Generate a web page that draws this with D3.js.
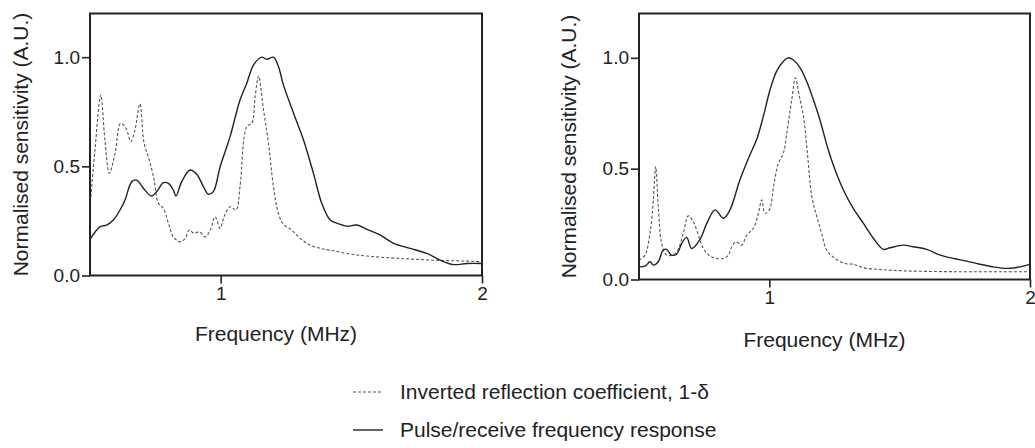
<!DOCTYPE html>
<html>
<head>
<meta charset="utf-8">
<script src="https://cdn.jsdelivr.net/npm/d3@7"></script>
<style>
  body { margin: 0; background: #fff; }
  svg text { font-family: "Liberation Sans", Arial, sans-serif; fill: #222; }
</style>
</head>
<body>
<div id="chart"></div>
<script>

// 1. Data (frequency in MHz, normalised sensitivity)

const leftPulseFreq = [0.5, 0.538, 0.564, 0.589, 0.615, 0.634, 0.66, 0.679, 0.704, 0.736, 0.755, 0.781, 0.8, 0.819, 0.829, 0.851, 0.883, 0.909, 0.934, 0.953, 0.972, 0.998, 1.036, 1.074, 1.1, 1.126, 1.157, 1.177, 1.202, 1.221, 1.24, 1.279, 1.317, 1.355, 1.387, 1.419, 1.445, 1.483, 1.521, 1.56, 1.611, 1.662, 1.726, 1.789, 1.84, 1.891, 1.942, 2.0];
const leftPulseValue = [0.165, 0.223, 0.231, 0.254, 0.30, 0.346, 0.43, 0.437, 0.40, 0.364, 0.384, 0.425, 0.422, 0.391, 0.364, 0.43, 0.483, 0.463, 0.407, 0.372, 0.384, 0.498, 0.636, 0.804, 0.881, 0.965, 1.0, 0.99, 1.0, 0.957, 0.873, 0.743, 0.621, 0.468, 0.33, 0.254, 0.239, 0.226, 0.231, 0.211, 0.185, 0.147, 0.124, 0.101, 0.07, 0.05, 0.055, 0.055];

const leftReflFreq = [0.5, 0.519, 0.541, 0.557, 0.574, 0.596, 0.617, 0.638, 0.656, 0.672, 0.691, 0.707, 0.723, 0.743, 0.762, 0.781, 0.8, 0.819, 0.845, 0.864, 0.88, 0.898, 0.919, 0.941, 0.96, 0.979, 0.998, 1.013, 1.036, 1.059, 1.074, 1.1, 1.119, 1.132, 1.145, 1.164, 1.183, 1.202, 1.221, 1.24, 1.272, 1.304, 1.343, 1.381, 1.432, 1.496, 1.56, 1.687, 1.815, 1.942, 2.0];
const leftReflValue = [0.315, 0.575, 0.827, 0.621, 0.468, 0.56, 0.697, 0.674, 0.613, 0.667, 0.786, 0.606, 0.544, 0.453, 0.33, 0.307, 0.239, 0.177, 0.154, 0.17, 0.208, 0.193, 0.2, 0.177, 0.208, 0.269, 0.216, 0.269, 0.315, 0.30, 0.407, 0.682, 0.697, 0.82, 0.914, 0.758, 0.606, 0.407, 0.284, 0.235, 0.208, 0.17, 0.139, 0.124, 0.113, 0.098, 0.089, 0.078, 0.07, 0.066, 0.063];

const rightPulseFreq = [0.5, 0.523, 0.542, 0.555, 0.574, 0.593, 0.606, 0.625, 0.645, 0.664, 0.683, 0.702, 0.734, 0.76, 0.792, 0.824, 0.849, 0.887, 0.926, 0.951, 0.977, 1.003, 1.028, 1.054, 1.073, 1.092, 1.118, 1.143, 1.169, 1.194, 1.226, 1.252, 1.284, 1.322, 1.361, 1.399, 1.437, 1.463, 1.514, 1.552, 1.604, 1.655, 1.706, 1.757, 1.808, 1.859, 1.91, 1.962, 2.0];
const rightPulseValue = [0.057, 0.06, 0.08, 0.065, 0.08, 0.133, 0.136, 0.11, 0.115, 0.163, 0.19, 0.14, 0.181, 0.253, 0.314, 0.276, 0.314, 0.449, 0.563, 0.63, 0.736, 0.857, 0.94, 0.985, 1.0, 0.99, 0.955, 0.894, 0.811, 0.721, 0.585, 0.495, 0.404, 0.321, 0.253, 0.186, 0.136, 0.143, 0.155, 0.148, 0.136, 0.11, 0.095, 0.083, 0.069, 0.057, 0.05, 0.057, 0.068];

const rightReflFreq = [0.5, 0.523, 0.542, 0.555, 0.564, 0.574, 0.587, 0.606, 0.625, 0.645, 0.67, 0.689, 0.708, 0.728, 0.747, 0.772, 0.798, 0.824, 0.843, 0.856, 0.872, 0.894, 0.913, 0.939, 0.958, 0.971, 0.983, 1.0, 1.018, 1.035, 1.054, 1.067, 1.086, 1.1, 1.115, 1.131, 1.146, 1.163, 1.182, 1.201, 1.22, 1.252, 1.29, 1.322, 1.361, 1.425, 1.514, 1.642, 1.77, 1.898, 2.0];
const rightReflValue = [0.087, 0.11, 0.208, 0.359, 0.51, 0.329, 0.163, 0.11, 0.11, 0.125, 0.208, 0.287, 0.261, 0.2, 0.14, 0.106, 0.095, 0.095, 0.11, 0.148, 0.17, 0.155, 0.2, 0.231, 0.299, 0.359, 0.299, 0.314, 0.434, 0.525, 0.57, 0.661, 0.811, 0.91, 0.827, 0.736, 0.57, 0.374, 0.284, 0.208, 0.133, 0.095, 0.072, 0.069, 0.053, 0.045, 0.039, 0.036, 0.035, 0.035, 0.035];

const xTicks = [1, 2];
const yTicks = [0, 0.5, 1.0];
const legendLabels = ["Inverted reflection coefficient, 1-\u03b4", "Pulse/receive frequency response"];

const zip = (xs, ys) => xs.map((x, i) => ({ f: x, v: ys[i] }));

// 2. Dimensions

const width = 1035;
const height = 448;

const panels = [
    { left: 90, top: 13.5, w: 392, h: 262, refl: zip(leftReflFreq, leftReflValue), pulse: zip(leftPulseFreq, leftPulseValue), yTitleX: 21, xTitleY: 341 },
    { left: 639, top: 13.5, w: 391, h: 266, refl: zip(rightReflFreq, rightReflValue), pulse: zip(rightPulseFreq, rightPulseValue), yTitleX: 569, xTitleY: 347 },
];

// 3. Canvas

const svg = d3.select("#chart")
    .append("svg")
    .attr("width", width)
    .attr("height", height);

// 4. Panels

panels.forEach(p => {
    const x = d3.scaleLinear().domain([0.5, 2]).range([0, p.w]);
    const y = d3.scaleLinear().domain([0, 1.2]).range([p.h, 0]);

    const g = svg.append("g")
        .attr("transform", `translate(${p.left}, ${p.top})`);

    const line = d3.line()
        .x(d => x(d.f))
        .y(d => y(d.v))
        .curve(d3.curveCatmullRom.alpha(0.5));

    g.append("path")
        .datum(p.refl)
        .attr("d", line)
        .attr("fill", "none")
        .attr("stroke", "#555")
        .attr("stroke-width", 1.1)
        .attr("stroke-dasharray", "3,2");

    g.append("path")
        .datum(p.pulse)
        .attr("d", line)
        .attr("fill", "none")
        .attr("stroke", "#222")
        .attr("stroke-width", 1.4);

    // frame
    g.append("rect")
        .attr("width", p.w)
        .attr("height", p.h)
        .attr("fill", "none")
        .attr("stroke", "#222")
        .attr("stroke-width", 2);

    const yAxis = g.append("g")
        .call(d3.axisLeft(y).tickValues(yTicks).tickFormat(d3.format(".1f")).tickSize(8).tickPadding(2));
    const xAxis = g.append("g")
        .attr("transform", `translate(0, ${p.h})`)
        .call(d3.axisBottom(x).tickValues(xTicks).tickFormat(d3.format("d")).tickSize(8).tickPadding(3));

    [xAxis, yAxis].forEach(a => {
        a.select(".domain").remove();
        a.selectAll(".tick line").attr("stroke", "#222").attr("stroke-width", 1.6);
        a.selectAll(".tick text").style("font-size", "19px").attr("fill", "#222");
        a.attr("font-family", null);
    });

    svg.append("text")
        .attr("transform", `translate(${p.yTitleX}, ${p.top + p.h / 2}) rotate(-90)`)
        .attr("text-anchor", "middle")
        .attr("dy", "0.35em")
        .style("font-size", "21px")
        .text("Normalised sensitivity (A.U.)");

    svg.append("text")
        .attr("x", p.left + p.w / 2 - 10)
        .attr("y", p.xTitleY)
        .attr("text-anchor", "middle")
        .style("font-size", "21px")
        .text("Frequency (MHz)");
});

// 5. Legend

const legend = svg.append("g").attr("transform", "translate(353, 392)");
const styles = [{ dash: "3,2", stroke: "#555", sw: 1.1 }, { dash: null, stroke: "#222", sw: 1.4 }];

legendLabels.forEach((label, i) => {
    const row = legend.append("g").attr("transform", `translate(0, ${i * 38})`);
    row.append("line")
        .attr("x1", 0).attr("x2", 30)
        .attr("stroke", styles[i].stroke)
        .attr("stroke-width", styles[i].sw)
        .attr("stroke-dasharray", styles[i].dash);
    row.append("text")
        .attr("x", 47)
        .attr("dy", "0.35em")
        .style("font-size", "21px")
        .text(label);
});

</script>
</body>
</html>
